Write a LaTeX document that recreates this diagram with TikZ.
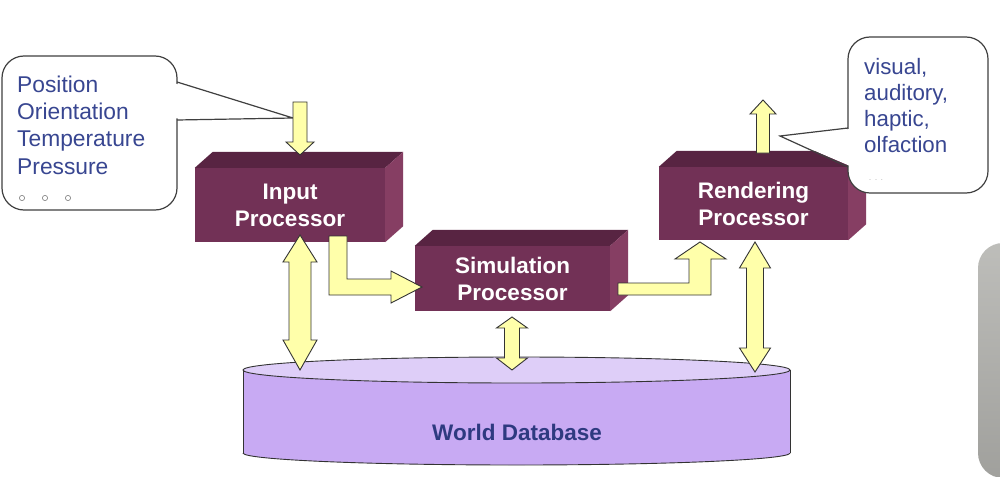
\documentclass[tikz,border=0pt]{standalone}
\usepackage{fontspec}
\setmainfont{Liberation Sans}
\definecolor{pfront}{RGB}{114,49,86}
\definecolor{ptop}{RGB}{88,36,66}
\definecolor{pright}{RGB}{134,62,99}
\definecolor{arrowfill}{RGB}{255,255,170}
\definecolor{dbbody}{RGB}{200,170,243}
\definecolor{dbtop}{RGB}{222,206,248}
\definecolor{txtblue}{RGB}{56,70,145}
\definecolor{dbtxt}{RGB}{46,58,128}
\definecolor{sidegray}{RGB}{182,182,178}
\newcommand{\boxfaces}[1]{%
  \fill[ptop] (#1.north west) -- ++(18,-16) -- ([shift={(18,-16)}]#1.north east) -- (#1.north east) -- cycle;
  \fill[pright] (#1.north east) -- ++(18,-16) -- ([shift={(18,-16)}]#1.south east) -- (#1.south east) -- cycle;}
% vertical double block arrow: x, top tip, bottom tip, half shaft, half head, head length (top), head length (bottom)
\newcommand{\vdblarrow}[7]{%
  \draw[blockarrow] (#1,#2) -- (#1+#5,#2+#6) -- (#1+#4,#2+#6) -- (#1+#4,#3-#7) -- (#1+#5,#3-#7) -- (#1,#3)
    -- (#1-#5,#3-#7) -- (#1-#4,#3-#7) -- (#1-#4,#2+#6) -- (#1-#5,#2+#6) -- cycle;}
\tikzset{
  procfront/.style={fill=pfront, text=white, font=\fontsize{22.5}{27}\selectfont\bfseries,
    align=center, inner sep=0pt},
  blockarrow/.style={fill=arrowfill, draw=black!80, line width=0.9pt, line join=miter},
  callout/.style={draw=black!75, line width=1.2pt, fill=white},
  calltext/.style={text=txtblue, font=\fontsize{22.8}{27.3}\selectfont, align=left, inner sep=0pt, anchor=north west},
  dbline/.style={draw=black!80, line width=0.9pt},
}
\begin{document}
\begin{tikzpicture}[x=1pt,y=-1pt]
\useasboundingbox (0,0) rectangle (1000,476);
\fill[white] (0,0) rectangle (1000,476);
% gray artefact at right edge
\shade[top color=sidegray!90!white, bottom color=sidegray!88!black, rounded corners=25] (978,243) rectangle (1030,478);

% world database
\fill[dbbody] (243,370) rectangle (790,453);
\fill[dbbody] (516.5,453) ellipse [x radius=273.5pt, y radius=12pt];
\begin{scope}
  \clip (230,453) rectangle (800,480);
  \draw[dbline] (516.5,453) ellipse [x radius=273.5pt, y radius=12pt];
\end{scope}
\draw[dbline] (243,370) -- (243,453) (790,370) -- (790,453);
\draw[dbline, fill=dbtop] (516.5,370) ellipse [x radius=273.5pt, y radius=13pt];
\node[text=dbtxt, font=\fontsize{22.5}{27}\selectfont\bfseries, inner sep=0pt] (db) at (517,432) {World Database};

% processors
\node[procfront, minimum width=190pt, minimum height=74pt] (inp) at (290,205) {Input\\Processor};
\boxfaces{inp}
\node[procfront, minimum width=195pt, minimum height=65pt] (sim) at (512.5,278.5) {Simulation\\Processor};
\boxfaces{sim}
\node[procfront, minimum width=189pt, minimum height=73pt] (ren) at (753.5,203.5) {Rendering\\Processor};
\boxfaces{ren}

% callout 1
\draw[callout, rounded corners=22pt] (2,56) rectangle (177,210);
\fill[white] (175,83.5) -- (293,118) -- (175,118.5) -- cycle;
\draw[draw=black!75, line width=1.2pt, line join=miter] (177,82) -- (293,118) -- (177,120);
\node[calltext] (c1) at (17,75.5) {Position\\Orientation\\Temperature\\Pressure};
\foreach \cx in {22,45,68} \draw[black!45, line width=0.7pt] (\cx,198) circle (2.6pt);

% callout 2
\draw[callout, rounded corners=22pt] (848,37) rectangle (988,193);
\fill[white] (850,129) -- (780,136) -- (850,166) -- cycle;
\draw[draw=black!75, line width=1.2pt, line join=miter] (848,128) -- (780,136) -- (848,167);
\node[calltext, font=\fontsize{22.3}{26}\selectfont] (c2) at (864,58) {visual,\\auditory,\\haptic,\\olfaction};
\node[text=black!25, font=\fontsize{9}{10}\selectfont, inner sep=0pt] (dots) at (876,180) {. . .};

% arrows
\draw[blockarrow] (293,102) -- (307,102) -- (307,142) -- (314,142) -- (300,155) -- (286,142) -- (293,142) -- cycle;
\draw[blockarrow] (756.5,153) -- (756.5,114) -- (750,114) -- (763,100) -- (776,114) -- (769.5,114) -- (769.5,153) -- cycle;
\vdblarrow{300}{235}{370}{11}{17}{27}{30}
\vdblarrow{512}{317}{370}{7.5}{15.5}{11}{12}
\vdblarrow{755}{242}{372}{8.5}{15.5}{26}{24}
\draw[blockarrow] (329,236) -- (347,236) -- (347,279) -- (391,279) -- (391,271) -- (422,287)
  -- (391,303) -- (391,295) -- (329,295) -- cycle;
\draw[blockarrow] (618,283) -- (689,283) -- (689,259) -- (675,259) -- (700,242) -- (726,259)
  -- (711,259) -- (711,295) -- (618,295) -- cycle;
\end{tikzpicture}
\end{document}
